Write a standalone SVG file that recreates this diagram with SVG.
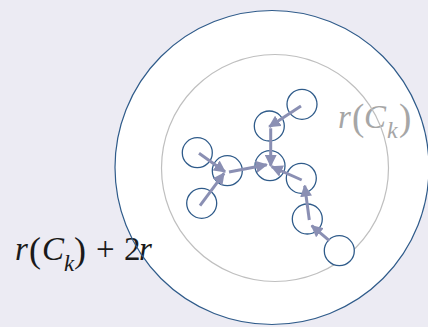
<svg xmlns="http://www.w3.org/2000/svg" width="428" height="327" viewBox="0 0 428 327">
<style>
.bg{fill:#ECEBF3}
.outer{fill:#FFFFFF}
.ring{fill:none;stroke:#2F5B8A;stroke-width:1.2}
.inner{fill:none;stroke:#BFBFBF;stroke-width:1.2}
.node{fill:#FFFFFF;stroke:#2F5B8A;stroke-width:1.3}
.edge{stroke:#8A8FB3;stroke-width:3;fill:none;marker-end:url(#ah)}
.lbl{font-family:"Liberation Serif",serif;font-size:33px}
.it{font-style:italic}
</style>
<defs>
<marker id="ah" viewBox="0 0 10 10" refX="9" refY="5" markerWidth="4" markerHeight="4" orient="auto" markerUnits="strokeWidth">
<path d="M0,0 L10,5 L0,10 Z" fill="#8A8FB3"/>
</marker>
</defs>
<rect class="bg" x="0" y="0" width="428" height="327"/>
<g id="outer-region"><circle class="outer" cx="272" cy="167.5" r="157"/></g>
<g id="label-outer">
<text class="lbl" fill="#1A1A1A" y="260"><tspan class="it" x="15">r</tspan><tspan x="29" font-size="36" y="262">(</tspan><tspan class="it" x="42" y="260">C</tspan><tspan class="it" x="64" y="271" font-size="23">k</tspan><tspan x="74" y="262" font-size="36">)</tspan><tspan x="96" y="260">+</tspan><tspan x="124">2</tspan><tspan class="it" x="139">r</tspan></text>
</g>
<g id="outer-ring"><circle class="ring" cx="272" cy="167.5" r="157"/></g>
<g id="label-inner">
<text class="lbl" fill="#A6A6A6" y="128" font-size="34"><tspan class="it" x="338">r</tspan><tspan x="352" font-size="37" y="130">(</tspan><tspan class="it" x="364" y="128">C</tspan><tspan class="it" x="387" y="138" font-size="24">k</tspan><tspan x="399" y="130" font-size="37">)</tspan></text>
</g>
<g id="inner-region"><circle class="inner" cx="275" cy="168" r="113.5"/></g>
<g id="n1"><circle class="node" cx="302" cy="104.3" r="15"/></g>
<g id="n2"><circle class="node" cx="269.3" cy="126" r="15"/></g>
<g id="n3"><circle class="node" cx="197.3" cy="152.7" r="15"/></g>
<g id="n4"><circle class="node" cx="227.3" cy="170.7" r="15"/></g>
<g id="n5"><circle class="node" cx="270" cy="165.7" r="15"/></g>
<g id="n6"><circle class="node" cx="301.3" cy="178.3" r="15"/></g>
<g id="n7"><circle class="node" cx="201.7" cy="203.3" r="15"/></g>
<g id="n8"><circle class="node" cx="307.3" cy="219" r="15"/></g>
<g id="n9"><circle class="node" cx="339.3" cy="250.7" r="15"/></g>
<g id="connectors">
<line class="edge" x1="301" y1="106" x2="269.3" y2="126.7"/>
<line class="edge" x1="270.7" y1="128.3" x2="270.7" y2="165.7"/>
<line class="edge" x1="199" y1="153.3" x2="225" y2="171.7"/>
<line class="edge" x1="200" y1="205.7" x2="224" y2="173.3"/>
<line class="edge" x1="229" y1="172" x2="266.7" y2="164.7"/>
<line class="edge" x1="301.7" y1="180" x2="271.7" y2="166.7"/>
<line class="edge" x1="309.3" y1="220" x2="304.7" y2="185.7"/>
<line class="edge" x1="329.3" y1="240.7" x2="311.7" y2="225.7"/>
</g>
</svg>
